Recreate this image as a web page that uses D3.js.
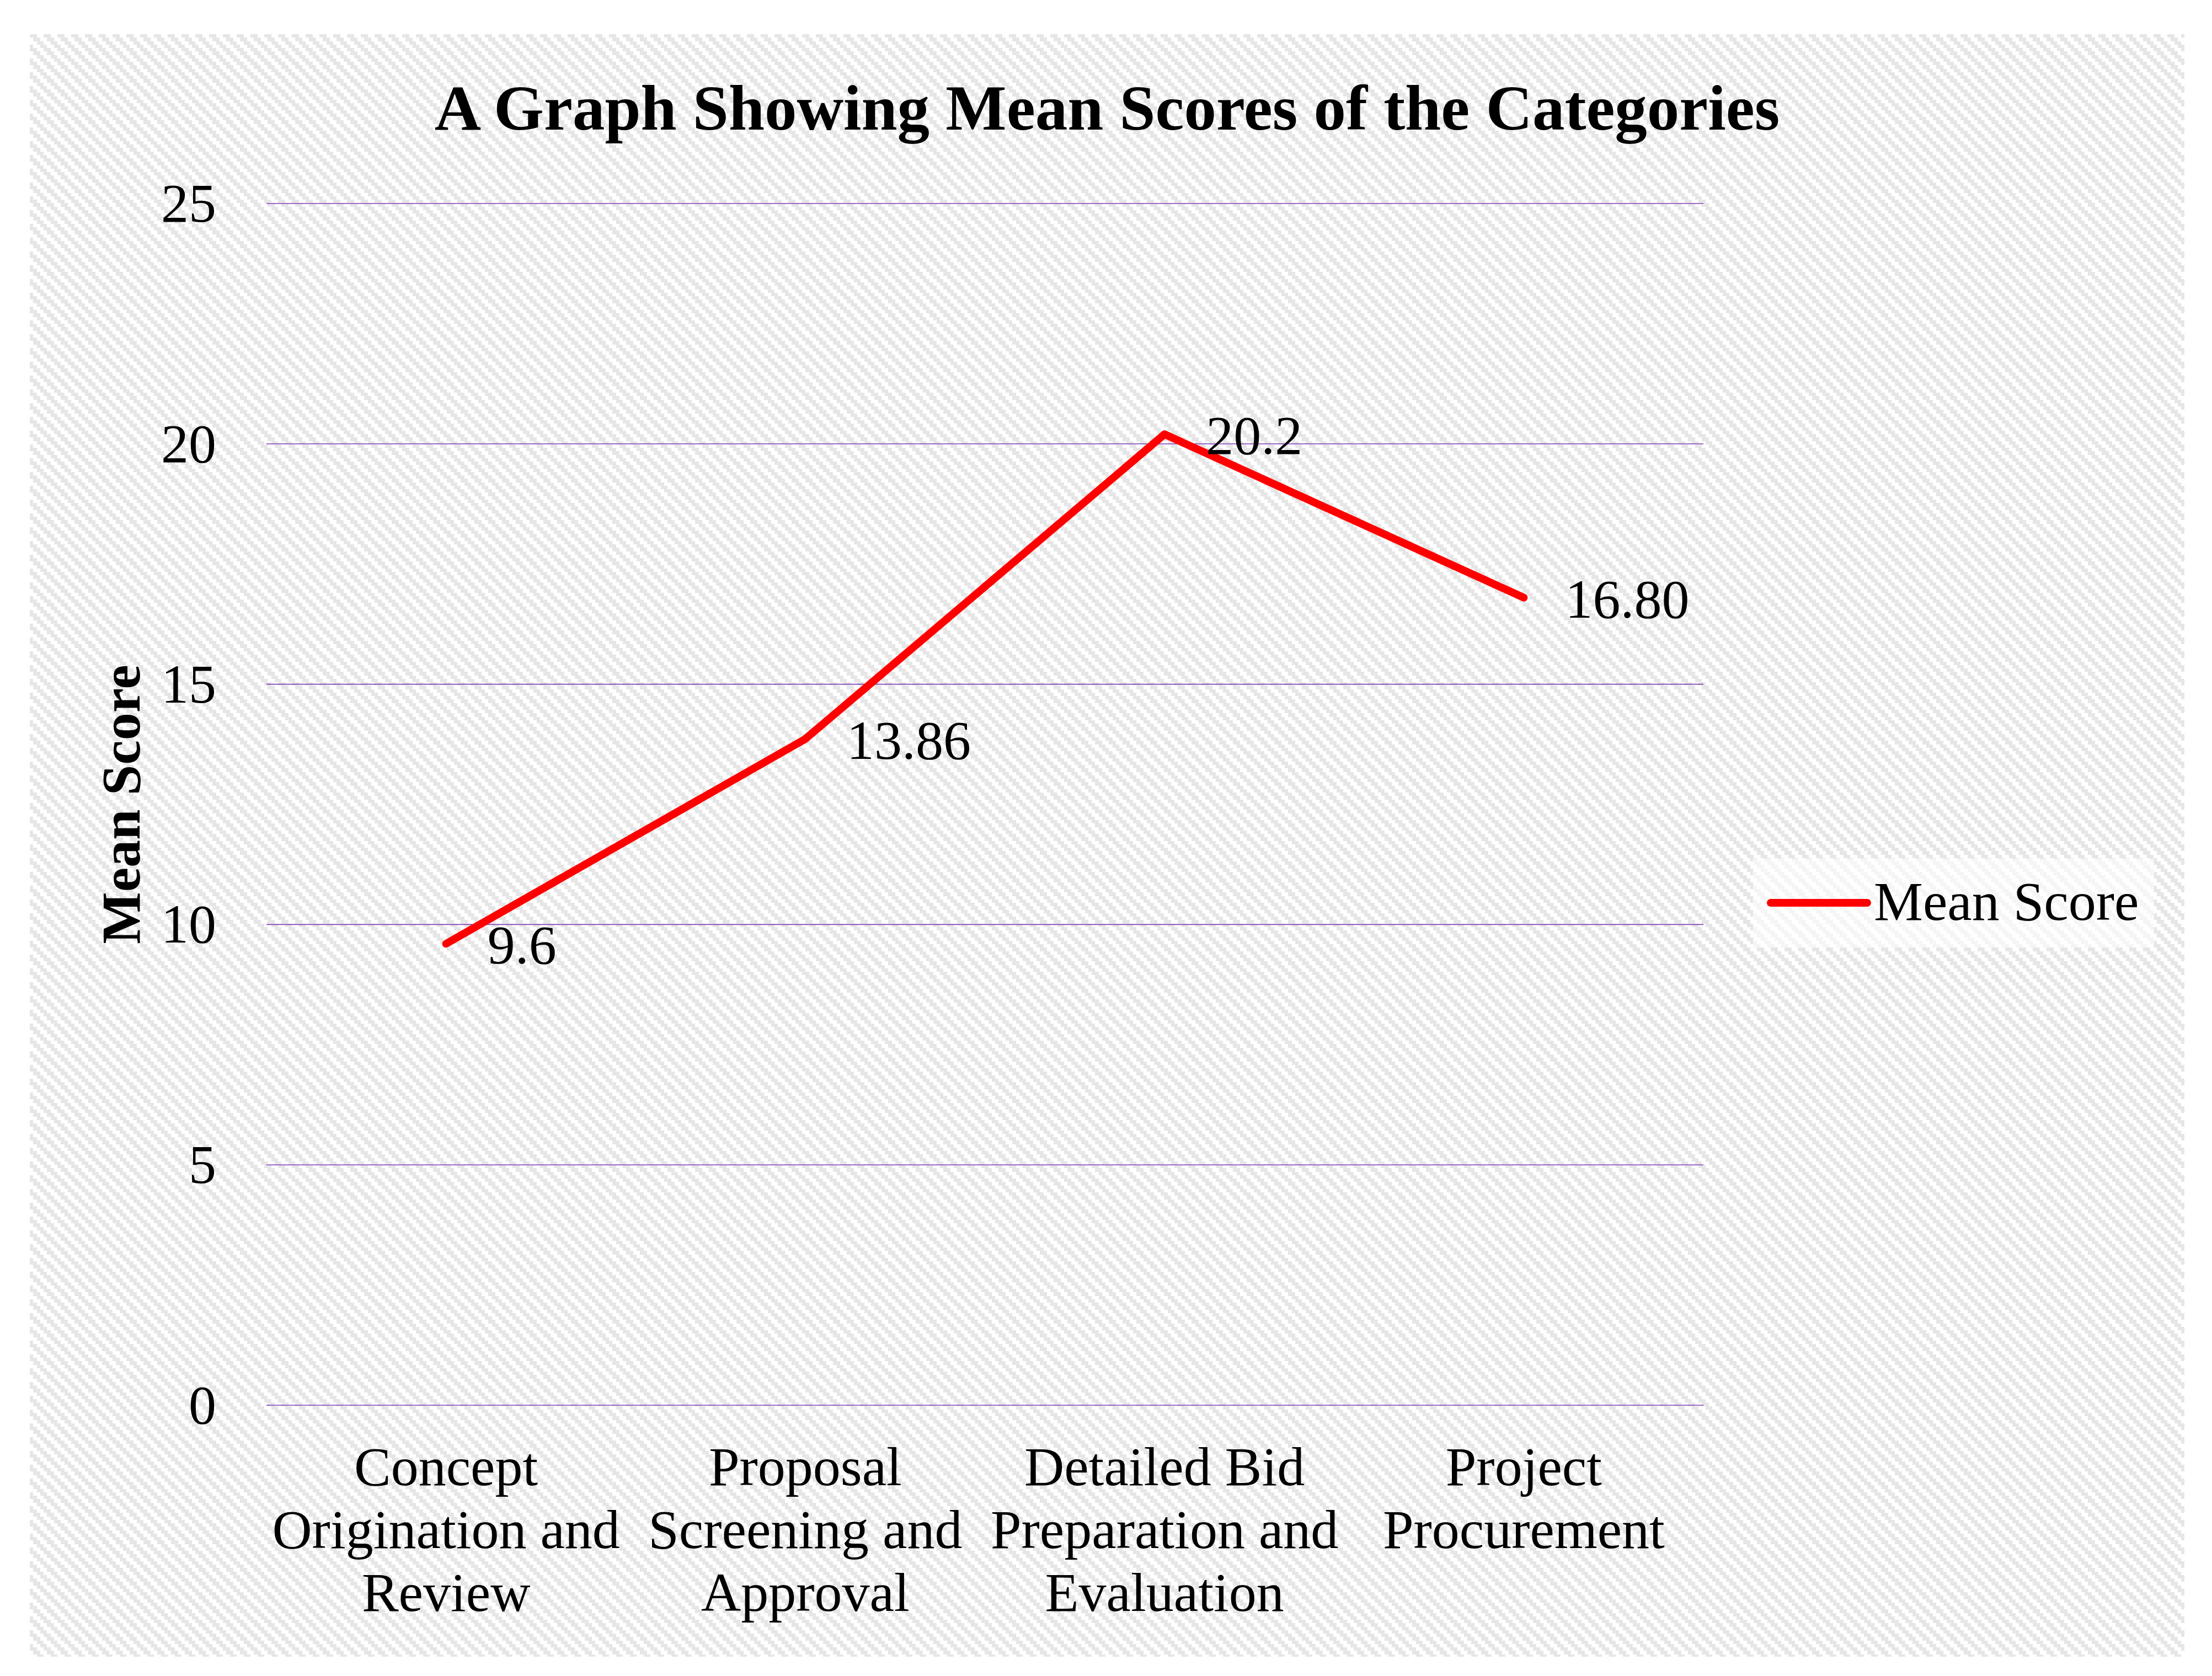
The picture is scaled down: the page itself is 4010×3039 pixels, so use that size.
<!DOCTYPE html>
<html>
<head>
<meta charset="utf-8">
<script src="https://cdn.jsdelivr.net/npm/d3@7/dist/d3.min.js"></script>
<style>
  body { margin: 0; background: #ffffff; }
  text { font-family: "Liberation Serif", "Times New Roman", serif; fill: #000; }
</style>
</head>
<body>
<div id="chart1"></div>
<script>
// data
const categories = ["Concept Origination and Review", "Proposal Screening and Approval",
                    "Detailed Bid Preparation and Evaluation", "Project Procurement"];
const categoryLines = [["Concept", "Origination and", "Review"],
                       ["Proposal", "Screening and", "Approval"],
                       ["Detailed Bid", "Preparation and", "Evaluation"],
                       ["Project", "Procurement"]];
const meanScores = [9.6, 13.86, 20.2, 16.80];
const scoreLabels = ["9.6", "13.86", "20.2", "16.80"];
const yTicks = [0, 5, 10, 15, 20, 25];
const seriesName = "Mean Score";
const chartTitle = "A Graph Showing Mean Scores of the Categories";

const W = 4010, H = 3039;

function draw_chart() {
  let svg = d3.select("#chart1").append("svg")
    .attr("width", W)
    .attr("height", H);

  // stepped diagonal pattern for the chart area
  let pat = svg.append("defs").append("pattern")
    .attr("id", "diag")
    .attr("patternUnits", "userSpaceOnUse")
    .attr("x", 54).attr("y", 62)
    .attr("width", 25).attr("height", 25);
  pat.append("rect").attr("width", 25).attr("height", 25).attr("fill", "#ffffff");
  for (let r = 0; r < 4; r++) {
    [0, -25].forEach(function(off) {
      pat.append("rect")
        .attr("x", r * 6.25 + off).attr("y", r * 6.25)
        .attr("width", 12.5).attr("height", 6.25)
        .attr("fill", "#e6e6e6")
        .attr("shape-rendering", "crispEdges");
    });
  }

  svg.append("rect")
    .attr("x", 54).attr("y", 62)
    .attr("width", 3960 - 54).attr("height", 3004 - 62)
    .attr("fill", "url(#diag)");

  let x = d3.scaleBand().domain(categories).range([483, 3088]);
  let y = d3.scaleLinear().domain([0, 25]).range([2548, 369]);

  // gridlines
  svg.append("g").selectAll("line")
    .data(yTicks)
    .enter().append("line")
    .attr("x1", 483).attr("x2", 3088)
    .attr("y1", function(d) { return y(d); })
    .attr("y2", function(d) { return y(d); })
    .attr("stroke", "#8040b8")
    .attr("stroke-width", 1.6);

  // y tick labels
  svg.append("g").selectAll("text")
    .data(yTicks)
    .enter().append("text")
    .attr("x", 392)
    .attr("y", function(d) { return y(d) + 33; })
    .attr("text-anchor", "end")
    .attr("font-size", 100)
    .text(function(d) { return d; });

  // category labels
  let cat = svg.append("g").selectAll("text")
    .data(categories)
    .enter().append("text")
    .attr("text-anchor", "middle")
    .attr("font-size", 100);
  cat.each(function(d, i) {
    let t = d3.select(this);
    categoryLines[i].forEach(function(line, k) {
      t.append("tspan")
        .attr("x", x(d) + x.bandwidth() / 2)
        .attr("y", 2693 + k * 114)
        .text(line);
    });
  });

  // the line
  let line = d3.line()
    .x(function(d, i) { return x(categories[i]) + x.bandwidth() / 2; })
    .y(function(d) { return y(d); });

  svg.append("path")
    .datum(meanScores)
    .attr("d", line)
    .attr("fill", "none")
    .attr("stroke", "#ff0000")
    .attr("stroke-width", 14)
    .attr("stroke-linecap", "round")
    .attr("stroke-linejoin", "round");

  // data labels
  svg.append("g").selectAll("text")
    .data(meanScores)
    .enter().append("text")
    .attr("x", function(d, i) { return x(categories[i]) + x.bandwidth() / 2 + 75; })
    .attr("y", function(d) { return y(d) + 36; })
    .attr("font-size", 100)
    .text(function(d, i) { return scoreLabels[i]; });

  // title
  svg.append("text")
    .attr("x", 2007).attr("y", 235)
    .attr("text-anchor", "middle")
    .attr("font-size", 117)
    .attr("font-weight", "bold")
    .text(chartTitle);

  // y axis title
  svg.append("text")
    .attr("transform", "translate(253," + ((369 + 2548) / 2) + ") rotate(-90)")
    .attr("text-anchor", "middle")
    .attr("font-size", 100)
    .attr("font-weight", "bold")
    .text(seriesName);

  // legend
  let lg = svg.append("g");
  lg.append("rect")
    .attr("x", 3178).attr("y", 1557)
    .attr("width", 3905 - 3178).attr("height", 1718 - 1557)
    .attr("fill", "#ffffff")
    .attr("fill-opacity", 0.6);
  lg.append("line")
    .attr("x1", 3210).attr("x2", 3385)
    .attr("y1", 1637).attr("y2", 1637)
    .attr("stroke", "#ff0000")
    .attr("stroke-width", 14)
    .attr("stroke-linecap", "round");
  lg.append("text")
    .attr("x", 3397).attr("y", 1668)
    .attr("font-size", 100)
    .text(seriesName);
}

draw_chart();
</script>
</body>
</html>
